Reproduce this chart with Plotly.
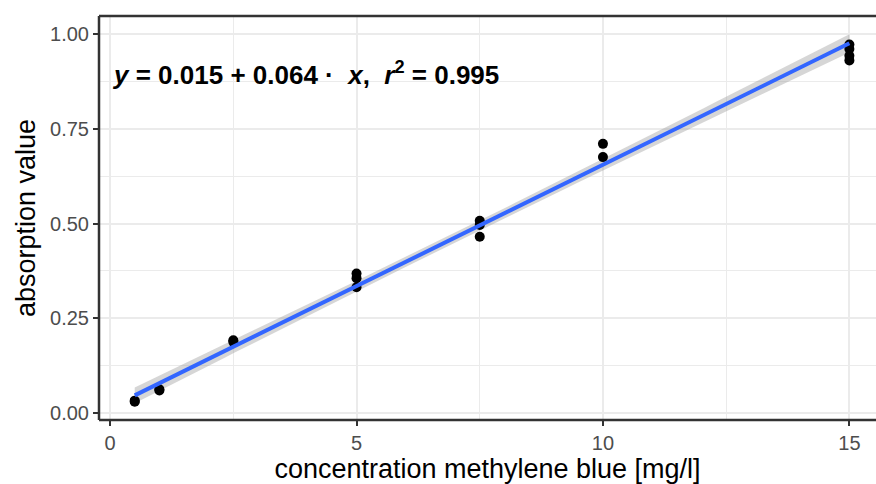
import numpy as np
import plotly.graph_objects as go

# Calibration measurements: methylene blue concentration vs. absorption
conc = [0.5, 0.5, 1.0, 1.0, 2.5, 2.5, 5.0, 5.0, 5.0, 7.5, 7.5, 7.5, 10.0, 10.0, 15.0, 15.0, 15.0, 15.0]
absorb = [0.030, 0.033, 0.060, 0.063, 0.188, 0.192, 0.332, 0.356, 0.368, 0.465, 0.496, 0.507, 0.675, 0.710, 0.930, 0.942, 0.960, 0.972]

# Fitted linear model as reported in the equation label
intercept = 0.015
slope = 0.064
r_squared = 0.995

x_ticks = [0, 5, 10, 15]
y_ticks = [0.00, 0.25, 0.50, 0.75, 1.00]
y_tick_text = ["0.00", "0.25", "0.50", "0.75", "1.00"]

x_arr = np.array(conc)
y_arr = np.array(absorb)
n = len(x_arr)
x_line = np.linspace(min(conc), max(conc), 80)
y_line = intercept + slope * x_line

# 95% confidence band of the fitted mean
resid = y_arr - (intercept + slope * x_arr)
s = np.sqrt(np.sum(resid ** 2) / (n - 2))
sxx = np.sum((x_arr - x_arr.mean()) ** 2)
t_q = 2.12
se = s * np.sqrt(1 / n + (x_line - x_arr.mean()) ** 2 / sxx)
lo = y_line - t_q * se
hi = y_line + t_q * se

fig = go.Figure()
fig.add_trace(go.Scatter(
    x=np.concatenate([x_line, x_line[::-1]]),
    y=np.concatenate([hi, lo[::-1]]),
    fill="toself", fillcolor="rgba(153,153,153,0.4)",
    line=dict(width=0), hoverinfo="skip", showlegend=False,
))
fig.add_trace(go.Scatter(
    x=conc, y=absorb, mode="markers",
    marker=dict(color="black", size=10), showlegend=False,
))
fig.add_trace(go.Scatter(
    x=x_line, y=y_line, mode="lines",
    line=dict(color="#3366FF", width=4), showlegend=False,
))

grid = "#EBEBEB"
family = "Liberation Sans, Arial, sans-serif"
tick_font = dict(family=family, size=20, color="#4D4D4D")
title_font = dict(family=family, size=27, color="black")

fig.update_xaxes(
    range=[-0.225, 15.54], tickvals=x_ticks, ticktext=[str(v) for v in x_ticks],
    showgrid=True, gridcolor=grid, gridwidth=1.5,
    minor=dict(tickvals=[2.5, 7.5, 12.5], showgrid=True, gridcolor=grid, gridwidth=1, ticks=""),
    ticks="outside", ticklen=5, tickwidth=1.5, tickcolor="#333333",
    tickfont=tick_font, zeroline=False, showline=False, automargin=False,
    title=dict(text="concentration methylene blue [mg/l]", font=title_font, standoff=2),
)
fig.update_yaxes(
    range=[-0.018, 1.047], tickvals=y_ticks, ticktext=y_tick_text,
    showgrid=True, gridcolor=grid, gridwidth=1.5,
    minor=dict(tickvals=[0.125, 0.375, 0.625, 0.875], showgrid=True, gridcolor=grid, gridwidth=1, ticks=""),
    ticks="outside", ticklen=5, tickwidth=1.5, tickcolor="#333333",
    tickfont=tick_font, zeroline=False, showline=False, automargin=False,
    title=dict(text="absorption value", font=title_font, standoff=6),
)

# Panel border (left, top, bottom)
border = dict(color="#333333", width=2.5)
fig.add_shape(type="line", xref="paper", yref="paper", x0=0, x1=0, y0=0, y1=1, line=border)
fig.add_shape(type="line", xref="paper", yref="paper", x0=0, x1=1, y0=1, y1=1, line=border)
fig.add_shape(type="line", xref="paper", yref="paper", x0=0, x1=1, y0=0, y1=0, line=border)

label = ("<b><i>y</i> = %.3f + %.3f ·  <i>x</i>,  <i>r</i><sup>2</sup> = %.3f</b>"
         % (intercept, slope, r_squared))
fig.add_annotation(
    x=0.0, y=0.895, xref="x", yref="y", xanchor="left", yanchor="middle",
    text=label, showarrow=False,
    font=dict(family=family, size=26, color="black"),
)

fig.update_layout(
    width=876, height=484,
    margin=dict(l=99, r=0, t=16, b=64),
    plot_bgcolor="white", paper_bgcolor="white",
)

fig.write_html("out.html")
